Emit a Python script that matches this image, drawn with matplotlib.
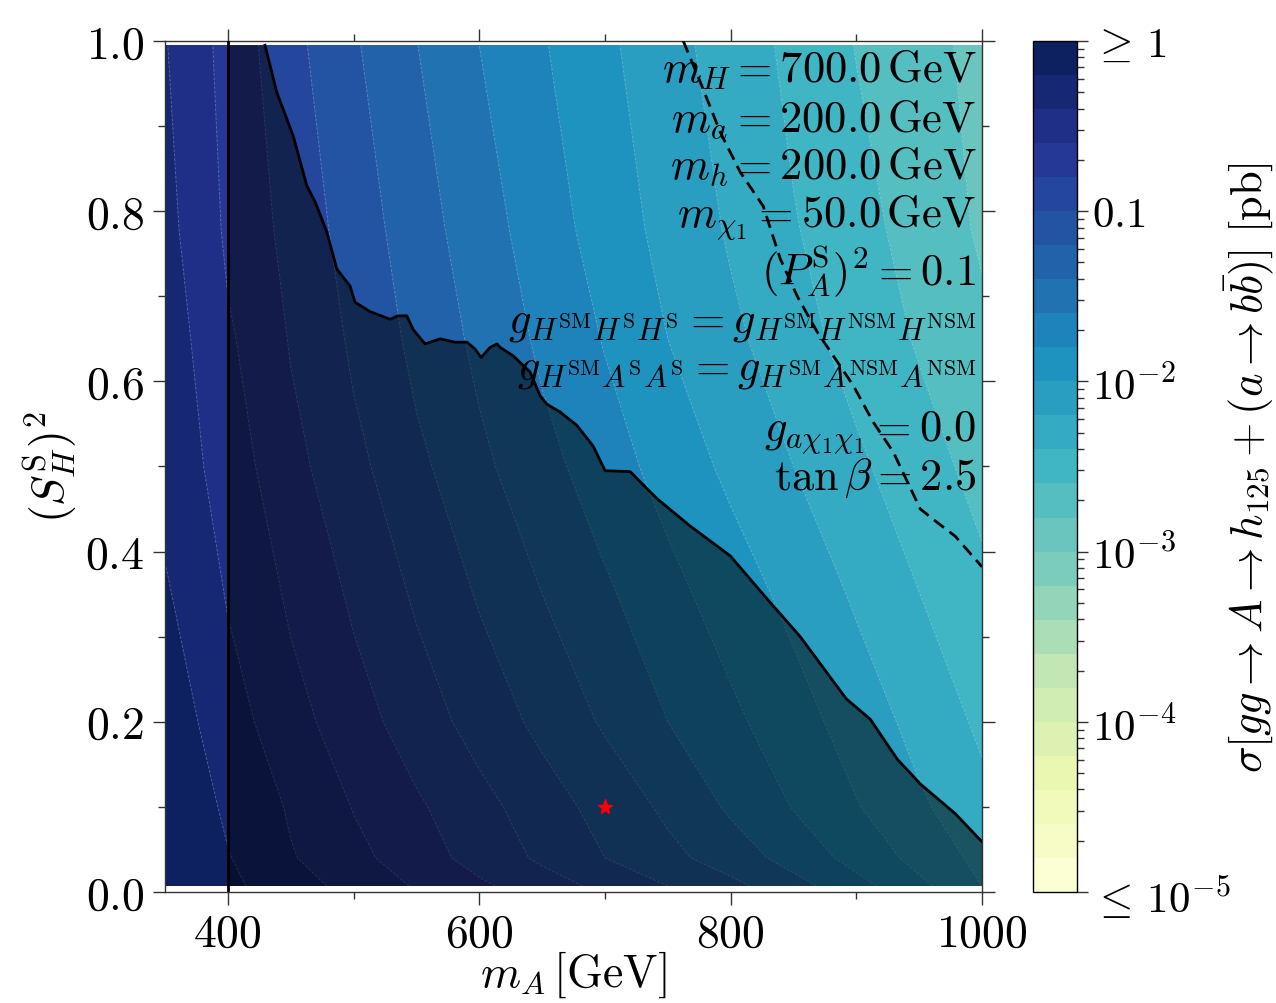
import numpy as np
import matplotlib
matplotlib.use("Agg")
import matplotlib.pyplot as plt
from matplotlib.colors import LogNorm
from matplotlib.ticker import MultipleLocator, LogLocator, FixedLocator, FixedFormatter, NullFormatter

plt.rcParams["font.family"] = "serif"
plt.rcParams["font.serif"] = ["cmr10", "DejaVu Serif"]
plt.rcParams["mathtext.fontset"] = "cm"
plt.rcParams["axes.unicode_minus"] = False
plt.rcParams["axes.formatter.use_mathtext"] = True

# grid: log10(sigma / pb)
m_A = [350, 400, 450, 500, 550, 600, 650, 700, 750, 800, 850, 900, 950, 1000]
S_H2 = [0.007, 0.04, 0.1, 0.2, 0.35, 0.5, 0.65, 0.78, 0.995]

logsig_s000 = [-0.02, -0.16, -0.319, -0.472, -0.621, -0.768, -0.913, -1.057, -1.2, -1.352, -1.536, -1.74, -1.96, -2.2]
logsig_s004 = [-0.02, -0.19, -0.385, -0.548, -0.715, -0.88, -1.04, -1.2, -1.349, -1.506, -1.684, -1.878, -2.068, -2.268]
logsig_s010 = [-0.04, -0.238, -0.426, -0.61, -0.774, -0.942, -1.114, -1.279, -1.446, -1.635, -1.811, -1.989, -2.171, -2.347]
logsig_s020 = [-0.095, -0.324, -0.533, -0.723, -0.907, -1.086, -1.259, -1.43, -1.6, -1.761, -1.925, -2.096, -2.272, -2.443]
logsig_s035 = [-0.18, -0.418, -0.639, -0.838, -1.033, -1.223, -1.40, -1.572, -1.743, -1.906, -2.063, -2.232, -2.398, -2.557]
logsig_s050 = [-0.265, -0.512, -0.745, -0.952, -1.158, -1.36, -1.54, -1.714, -1.886, -2.05, -2.2, -2.367, -2.523, -2.67]
logsig_s065 = [-0.31, -0.575, -0.817, -1.04, -1.263, -1.452, -1.644, -1.815, -2.0, -2.16, -2.329, -2.482, -2.622, -2.76]
logsig_s078 = [-0.35, -0.643, -0.877, -1.105, -1.32, -1.52, -1.71, -1.90, -2.07, -2.226, -2.387, -2.537, -2.684, -2.83]
logsig_s100 = [-0.39, -0.695, -0.95, -1.18, -1.396, -1.6, -1.785, -1.964, -2.138, -2.298, -2.453, -2.608, -2.736, -2.86]

# excluded region boundary (solid black)
excl_mA = [429.6, 438.9, 452.1, 462.8, 469.4, 478.7, 486.7, 497.2, 501.2, 513.1, 529.1, 535.4, 542.4,
           547.4, 556.9, 568.9, 580.8, 590.3, 596.7, 601.5, 608.7, 614.2, 616.6, 627.0, 640.5, 648.4,
           654.0, 664.4, 677.9, 690.6, 700.2, 720.1, 728.0, 741.6, 767.8, 799.7, 827.5, 855.4, 892.0,
           911.1, 932.6, 950.9, 978.7, 1000.0]
excl_S = [0.995, 0.940, 0.888, 0.830, 0.811, 0.776, 0.732, 0.712, 0.693, 0.682, 0.673, 0.677, 0.677,
          0.661, 0.644, 0.650, 0.646, 0.646, 0.638, 0.628, 0.640, 0.644, 0.640, 0.630, 0.611, 0.583,
          0.573, 0.564, 0.548, 0.524, 0.495, 0.494, 0.482, 0.462, 0.430, 0.395, 0.347, 0.300, 0.227,
          0.203, 0.156, 0.127, 0.092, 0.059]

# dashed line
dash_mA = [762.3, 775.8, 791.7, 807.6, 825.9, 839.5, 853.0, 868.9, 887.2, 897.6, 913.5, 929.4, 950.9, 962.8, 978.7, 1000.0]
dash_S = [1.0, 0.952, 0.893, 0.846, 0.806, 0.744, 0.700, 0.658, 0.618, 0.595, 0.552, 0.517, 0.450, 0.436, 0.418, 0.382]

bench_mA, bench_S = 700, 0.1
mass_cut = 400

info_lines = [
    r"$m_H = 700.0\,\mathrm{GeV}$",
    r"$m_a = 200.0\,\mathrm{GeV}$",
    r"$m_h = 200.0\,\mathrm{GeV}$",
    r"$m_{\chi_1} = 50.0\,\mathrm{GeV}$",
    r"$(P_A^{\mathrm{S}})^2 = 0.1$",
    r"$g_{H^{\mathrm{SM}}H^{\mathrm{S}}H^{\mathrm{S}}} = g_{H^{\mathrm{SM}}H^{\mathrm{NSM}}H^{\mathrm{NSM}}}$",
    r"$g_{H^{\mathrm{SM}}A^{\mathrm{S}}A^{\mathrm{S}}} = g_{H^{\mathrm{SM}}A^{\mathrm{NSM}}A^{\mathrm{NSM}}}$",
    r"$g_{a\chi_1\chi_1} = 0.0$",
    r"$\tan\beta = 2.5$",
]
info_y = [0.952, 0.895, 0.840, 0.783, 0.714, 0.657, 0.602, 0.532, 0.474]

cbar_ticks = [1e-5, 1e-4, 1e-3, 1e-2, 1e-1, 1]
cbar_labels = [r"$\leq\,10^{-5}$", r"$10^{-4}$", r"$10^{-3}$", r"$10^{-2}$", r"$0.1$", r"$\geq\,1$"]

Z = np.array([logsig_s000, logsig_s004, logsig_s010, logsig_s020, logsig_s035,
              logsig_s050, logsig_s065, logsig_s078, logsig_s100])
X, Y = np.meshgrid(m_A, S_H2)

fig = plt.figure(figsize=(12.76, 10.04), dpi=100)
ax = fig.add_axes([0.1293, 0.1106, 0.6403, 0.8476])
cax = fig.add_axes([0.8095, 0.1106, 0.0345, 0.8476])

levels = np.logspace(-5, 0, 26)
norm = LogNorm(1e-5, 1)
cf = ax.contourf(X, Y, 10 ** Z, levels=levels, norm=norm, cmap="YlGnBu")
ax.contour(X, Y, 10 ** Z, levels=levels, colors="white", linewidths=0.6,
           alpha=0.3, linestyles="dashed")

# shaded excluded region
poly_x = [mass_cut] + excl_mA + [1000, mass_cut]
poly_y = [0.995] + excl_S + [0.007, 0.007]
ax.fill(poly_x, poly_y, color="black", alpha=0.5, lw=0, zorder=3)
ax.plot(excl_mA, excl_S, color="black", lw=2, zorder=4)
ax.axvline(mass_cut, color="black", lw=2, zorder=4)
ax.plot(dash_mA, dash_S, color="black", lw=2, ls=(0, (4.5, 2.5)), zorder=4)
ax.plot(bench_mA, bench_S, marker="*", color="red", ms=11, mec="red", zorder=5)

for txt, yy in zip(info_lines, info_y):
    ax.text(0.993, yy, txt, transform=ax.transAxes, ha="right", va="baseline",
            fontsize=32, zorder=6)

ax.set_xlim(350, 1000)
ax.set_ylim(0, 1)
ax.xaxis.set_major_locator(FixedLocator([400, 600, 800, 1000]))
ax.xaxis.set_minor_locator(MultipleLocator(100))
ax.yaxis.set_major_locator(MultipleLocator(0.2))
ax.yaxis.set_minor_locator(MultipleLocator(0.1))
ax.tick_params(which="both", direction="out", top=True, right=True, width=1, color="#333333")
ax.tick_params(which="major", length=9, labelsize=33, pad=6)
ax.tick_params(which="minor", length=5)
for sp in ax.spines.values():
    sp.set_color("#333333")
    sp.set_linewidth(1)

ax.set_xlabel(r"$m_A\,[\mathrm{GeV}]$", fontsize=33, labelpad=-4)
ax.set_ylabel(r"$(S_H^{\mathrm{S}})^2$", fontsize=33, labelpad=4)

cb = fig.colorbar(cf, cax=cax)
cb.outline.set_linewidth(1)
cb.ax.yaxis.set_major_locator(FixedLocator(cbar_ticks))
cb.ax.yaxis.set_major_formatter(FixedFormatter(cbar_labels))
cb.ax.yaxis.set_minor_locator(LogLocator(base=10, subs=np.arange(2, 10)))
cb.ax.yaxis.set_minor_formatter(NullFormatter())
cb.ax.tick_params(which="both", direction="out", width=1, color="#333333")
cb.ax.tick_params(which="major", length=8, labelsize=31, pad=3)
cb.ax.tick_params(which="minor", length=5)
cb.set_label(r"$\sigma[gg\rightarrow A\rightarrow h_{125}+(a\rightarrow b\bar{b})]\ [\mathrm{pb}]$",
             fontsize=32)
cb.ax.yaxis.set_label_coords(4.3, 0.5)

fig.savefig("out.png", dpi=100)
